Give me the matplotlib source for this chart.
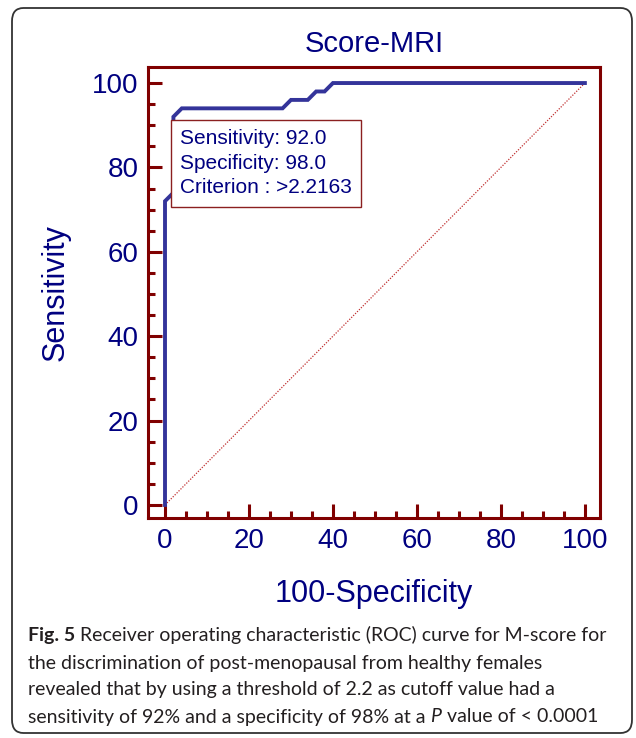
import numpy as np
import matplotlib.pyplot as plt
from matplotlib.patches import FancyBboxPatch
from matplotlib.ticker import MultipleLocator

# ROC points (100-Specificity, Sensitivity)
fpr = [0, 0, 2, 2, 4, 28, 30, 34, 36, 38, 40, 100]
sens = [0, 72, 74, 92, 94, 94, 96, 96, 98, 98, 100, 100]

cut_sens = 92.0
cut_spec = 98.0
criterion = '>2.2163'

title = 'Score-MRI'
xlabel = '100-Specificity'
ylabel = 'Sensitivity'

caption = [
    ('Fig. 5', ' Receiver operating characteristic (ROC) curve for M-score for'),
    ('', 'the discrimination of post-menopausal from healthy females'),
    ('', 'revealed that by using a threshold of 2.2 as cutoff value had a'),
]
caption_last = ('sensitivity of 92% and a specificity of 98% at a ', 'P', ' value of < 0.0001')

maroon = '#800000'
navy = '#000080'
curve_col = '#34349a'
cap_col = '#231f20'

plt.rcParams['font.family'] = ['Liberation Sans', 'DejaVu Sans']

W, H = 636, 738
fig = plt.figure(figsize=(W / 100, H / 100), dpi=100)
ax = fig.add_axes([148 / W, 1 - 518 / H, (600 - 148) / W, (518 - 67) / H])

ax.plot([0, 100], [0, 100], color='#c03030', lw=0.9, ls=(0, (1, 1.2)))
ax.plot(fpr, sens, color=curve_col, lw=2.8, solid_joinstyle='miter')

ax.set_xlim(-4.05, 103.6)
ax.set_ylim(-3.1, 103.8)

for s in ax.spines.values():
    s.set_color(maroon)
    s.set_linewidth(2.2)

ax.xaxis.set_major_locator(MultipleLocator(20))
ax.xaxis.set_minor_locator(MultipleLocator(5))
ax.yaxis.set_major_locator(MultipleLocator(20))
ax.yaxis.set_minor_locator(MultipleLocator(5))
ax.tick_params(which='both', direction='in', color=maroon, width=2.2,
               top=False, right=False)
ax.tick_params(which='major', length=10, labelsize=20, labelcolor=navy, pad=7)
ax.tick_params(which='minor', length=5)

ax.set_title(title, fontsize=21, color=navy, pad=11)
ax.set_xlabel(xlabel, fontsize=22, color=navy, labelpad=18)
ax.set_ylabel(ylabel, fontsize=22, color=navy, labelpad=15)

info = 'Sensitivity: %.1f\nSpecificity: %.1f\nCriterion : %s' % (cut_sens, cut_spec, criterion)
ax.text(100 - cut_spec + 1.55, cut_sens - 3.0, info, ha='left', va='top', fontsize=15,
        color=navy, linespacing=1.36,
        bbox=dict(boxstyle='square,pad=0.45', fc='white', ec='#8b2020', lw=1))

# outer rounded frame
frame = FancyBboxPatch((12 / W, 1 - 733 / H), (632 - 12) / W, (733 - 8) / H,
                       boxstyle='round,pad=0,rounding_size=0.018',
                       transform=fig.transFigure, fc='none', ec='#333333', lw=1.3)
fig.patches.append(frame)

x0 = 28 / W
ys = [636, 663, 690, 717]
fs = 14
for (bold, rest), yy in zip(caption, ys):
    if bold:
        t = fig.text(x0, 1 - yy / H, bold, fontsize=fs, fontweight='bold',
                     color=cap_col, family='Lato', va='center')
        ax.annotate(rest, xy=(1, 0), xycoords=t, va='bottom', ha='left',
                    fontsize=fs, color=cap_col, family='Lato', annotation_clip=False)
    else:
        fig.text(x0, 1 - yy / H, rest, fontsize=fs, color=cap_col, family='Lato', va='center')

t1 = fig.text(x0, 1 - ys[3] / H, caption_last[0], fontsize=fs, color=cap_col,
              family='Lato', va='center')
t2 = ax.annotate(caption_last[1], xy=(1, 0), xycoords=t1, va='bottom', ha='left',
                 fontsize=fs, color=cap_col, family='Lato', style='italic',
                 annotation_clip=False)
ax.annotate(caption_last[2], xy=(1, 0), xycoords=t2, va='bottom', ha='left',
            fontsize=fs, color=cap_col, family='Lato', annotation_clip=False)

fig.savefig('out.png', dpi=100)
